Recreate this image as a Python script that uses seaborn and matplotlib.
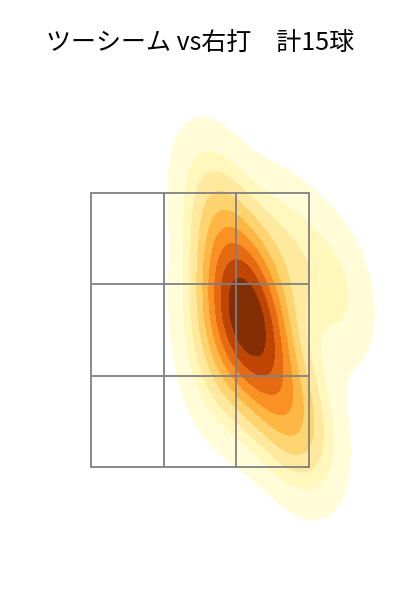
import numpy as np
import pandas as pd
import matplotlib
matplotlib.use("Agg")
import matplotlib.pyplot as plt
import seaborn as sns

# Pitch locations (feet): horizontal plate_x, vertical plate_z
plate_x = [0.43, 0.47, 0.39, 0.50, 0.35, 0.54, 0.12, 0.29, 1.24, 0.20, 0.66, 0.83, 0.96, 0.17, 0.80]
plate_z = [2.72, 2.57, 2.79, 2.45, 2.65, 2.52, 3.46, 3.18, 2.80, 2.55, 2.03, 1.88, 1.79, 2.16, 3.12]

title = "ツーシーム vs右打\u3000計15球"

# Strike zone bounds
zone_x = [-1.0, 1.0]
zone_z = [1.5, 3.5]

df = pd.DataFrame({"x": plate_x, "z": plate_z})

sns.set_style("white")
plt.rcParams["font.family"] = ["Noto Sans CJK JP", "DejaVu Sans"]

fig = plt.figure(figsize=(4, 6), dpi=100)
ax = fig.add_axes([0, 0, 1, 1])

sns.kdeplot(data=df, x="x", y="z", fill=True, cmap="YlOrBr", levels=10, thresh=0.05,
            bw_adjust=1.25, ax=ax)

# zone grid
xs = np.linspace(zone_x[0], zone_x[1], 4)
zs = np.linspace(zone_z[0], zone_z[1], 4)
for xv in xs:
    ax.plot([xv, xv], [zone_z[0], zone_z[1]], color="#808080", lw=1.3, zorder=10)
for zv in zs:
    ax.plot([zone_x[0], zone_x[1]], [zv, zv], color="#808080", lw=1.3, zorder=10)

ax.set_xlim(-200 / 109, 200 / 109)
ax.set_ylim(3.5 - 407 / 137, 3.5 + 193 / 137)
ax.axis("off")

fig.text(0.5, 1 - 43 / 600, title, ha="center", va="center", fontsize=18, color="black")

fig.savefig("out.png", dpi=100)
